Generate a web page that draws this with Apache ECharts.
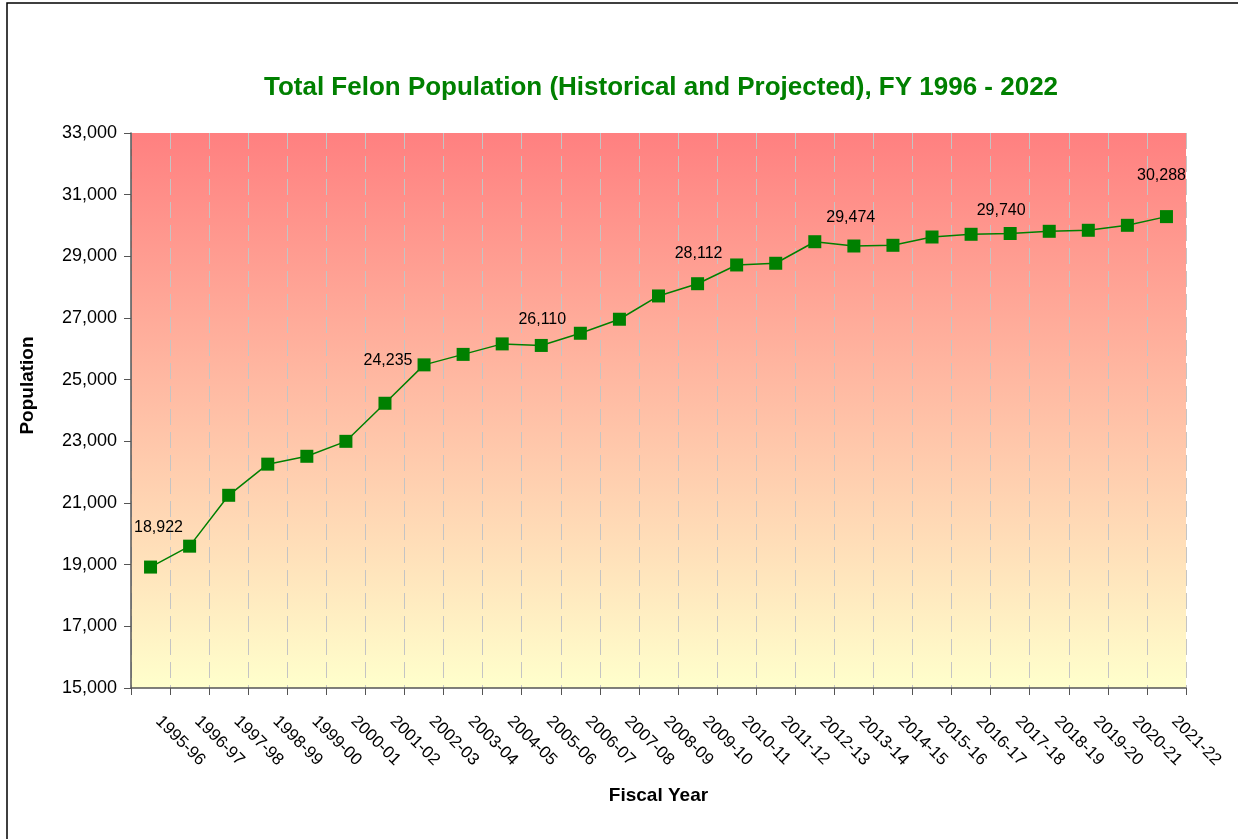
<!DOCTYPE html>
<html lang="en">

<head>
    <meta charset="UTF-8">
    <title>Total Felon Population</title>
    <script src="https://cdn.jsdelivr.net/npm/echarts@6.0.0/dist/echarts.min.js"></script>
    <style>
        body { margin: 0; background: #fff; }
    </style>
</head>

<body>
    <div id="main" style="width: 1238px;height:839px;"></div>
    <script type="text/javascript">
        const fiscalYears = ['1995-96', '1996-97', '1997-98', '1998-99', '1999-00', '2000-01', '2001-02',
            '2002-03', '2003-04', '2004-05', '2005-06', '2006-07', '2007-08', '2008-09', '2009-10',
            '2010-11', '2011-12', '2012-13', '2013-14', '2014-15', '2015-16', '2016-17', '2017-18',
            '2018-19', '2019-20', '2020-21', '2021-22'];
        const population = [18922, 19600, 21250, 22260, 22515, 23000, 24235, 25480, 25820, 26160,
            26110, 26505, 26960, 27715, 28112, 28720, 28775, 29474, 29335, 29358, 29627, 29715,
            29740, 29812, 29845, 30006, 30288];
        const yTicks = [15000, 17000, 19000, 21000, 23000, 25000, 27000, 29000, 31000, 33000];

        // which points carry a value label, and how far the label was nudged
        const labelNudge = {
            0: [8, -20], 6: [3, -23], 10: [1, -6], 14: [1, -11],
            17: [36, -5], 22: [-9, -3], 26: [-5, -22]
        };

        const fmt = v => v.toLocaleString('en-US');
        const font = 'Arial, "Liberation Sans", sans-serif';

        let myChart = echarts.init(document.getElementById('main'));

        let seriesData = population.map((v, i) => {
            const item = { value: v };
            if (labelNudge[i]) {
                item.label = { show: true, offset: labelNudge[i] };
            }
            return item;
        });

        let options = {
            animation: false,
            backgroundColor: '#fff',
            title: {
                text: 'Total Felon Population (Historical and Projected), FY 1996 - 2022',
                left: 656,
                textAlign: 'center',
                top: 70,
                textStyle: { color: '#008000', fontSize: 26, fontWeight: 'bold', fontFamily: font }
            },
            graphic: [{
                type: 'rect',
                shape: { x: 7, y: 3, width: 1260, height: 860 },
                style: { fill: 'none', stroke: '#000', lineWidth: 1.5 },
                silent: true
            }],
            grid: {
                left: 131, top: 133, right: 52, bottom: 151,
                show: true, borderWidth: 0,
                // pink at the top fading to pale yellow at the bottom
                backgroundColor: new echarts.graphic.LinearGradient(0, 0, 0, 1, [
                    { offset: 0, color: '#ff8080' },
                    { offset: 1, color: '#ffffcc' }
                ])
            },
            xAxis: {
                type: 'category',
                data: fiscalYears,
                boundaryGap: true,
                name: 'Fiscal Year',
                nameLocation: 'middle',
                nameGap: 98,
                nameTextStyle: { color: '#000', fontSize: 19, fontWeight: 'bold', fontFamily: font },
                axisLine: { lineStyle: { color: '#555', width: 1.5 } },
                axisTick: { show: true, length: 7, lineStyle: { color: '#555' } },
                axisLabel: {
                    rotate: -45, margin: 23, interval: 0, padding: [0, 0, 0, 11],
                    color: '#000', fontSize: 17, fontFamily: font
                },
                splitLine: {
                    show: true,
                    lineStyle: { color: '#c4c4c4', type: [16, 7], width: 1 }
                }
            },
            yAxis: {
                type: 'value',
                min: yTicks[0],
                max: yTicks[yTicks.length - 1],
                interval: 2000,
                name: 'Population',
                nameLocation: 'middle',
                nameGap: 94,
                nameTextStyle: {
                    color: '#000', fontSize: 19, fontWeight: 'bold', fontFamily: font,
                    padding: [0, 0, 0, 50]
                },
                axisLine: { show: true, lineStyle: { color: '#555', width: 1.5 } },
                axisTick: { show: true, length: 7, lineStyle: { color: '#555' } },
                axisLabel: { margin: 14, color: '#000', fontSize: 18, fontFamily: font, formatter: fmt },
                splitLine: { show: false }
            },
            series: [{
                name: 'Population',
                type: 'line',
                data: seriesData,
                symbol: 'rect',
                symbolSize: 13,
                itemStyle: { color: '#008000' },
                lineStyle: { color: '#008000', width: 1.5 },
                label: {
                    show: false,
                    position: 'top',
                    color: '#000',
                    fontSize: 16,
                    fontFamily: font,
                    formatter: p => fmt(p.value)
                },
                z: 5
            }]
        };

        myChart.setOption(options);
    </script>
</body>

</html>
